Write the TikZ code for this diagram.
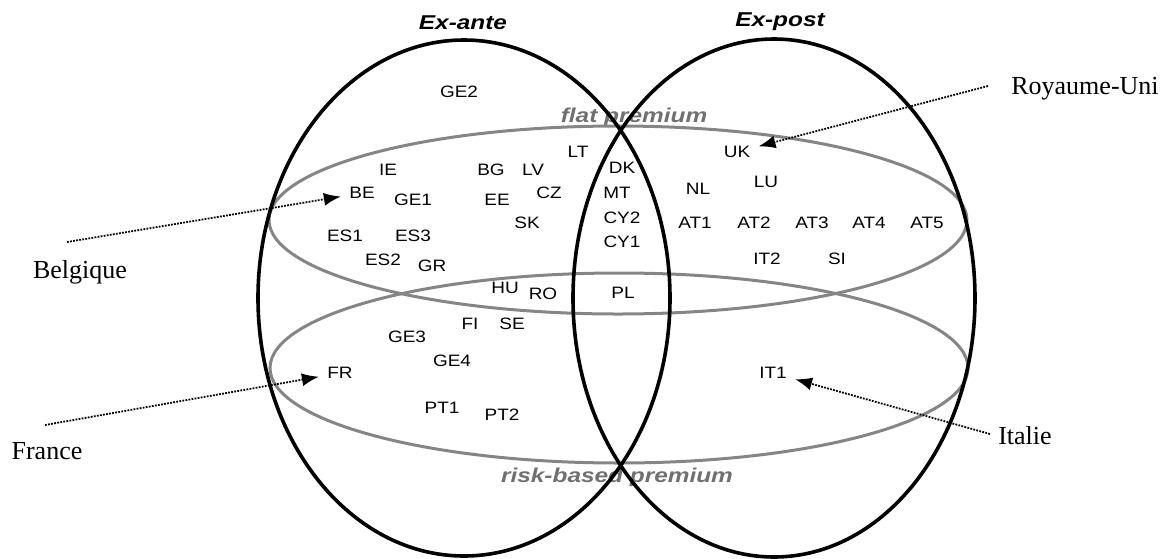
\documentclass[tikz,border=0pt]{standalone}
\usepackage{fontspec}
\setmainfont{Liberation Serif}
\newfontfamily\codefont[FakeStretch=1.15]{Liberation Sans}
\newfontfamily\headfont[FakeStretch=1.22]{Liberation Sans}
\usetikzlibrary{arrows.meta}
\definecolor{ringgray}{HTML}{858585}
\definecolor{premiumgray}{HTML}{707070}

\begin{document}
\begin{tikzpicture}[x=1pt, y=-1pt,
	code/.style={font=\codefont\fontsize{16.5}{16.5}\selectfont},
	heading/.style={font=\headfont\bfseries\itshape\fontsize{20}{20}\selectfont},
	country/.style={font=\fontsize{26}{26}\selectfont},
	pointer/.style={-{Latex[length=17pt,width=13pt]}, line width=1.8pt,
		dash pattern=on 1.8pt off 1.3pt, shorten >=5pt}]
	\useasboundingbox (0,0) rectangle (1163,558);

	% premium rings
	\node[heading, text=premiumgray] (flatlabel) at (634,117) {flat premium};
	\node[heading, text=premiumgray] (risklabel) at (617,477) {risk-based premium};
	\draw[ringgray, line width=3pt] (618,220) ellipse [x radius=349, y radius=94];
	\draw[ringgray, line width=3pt] (619,368) ellipse [x radius=349, y radius=95];

	% ex-ante / ex-post
	\draw[line width=3.6pt] (464,298) ellipse [x radius=206, y radius=258];
	\draw[line width=3.6pt] (774,298) ellipse [x radius=201, y radius=259];
	\node[heading] (exante) at (463,23) {Ex-ante};
	\node[heading] (expost) at (780,22) {Ex-post};

	\node[code] (ge2) at (459,92) {GE2};
	\node[code] (lt) at (578,152) {LT};
	\node[code] (ie) at (388,170) {IE};
	\node[code] (bg) at (491,170) {BG};
	\node[code] (lv) at (533,170) {LV};
	\node[code] (be) at (362,193) {BE};
	\node[code] (ge1) at (413,200) {GE1};
	\node[code] (ee) at (497,200) {EE};
	\node[code] (cz) at (549,193) {CZ};
	\node[code] (sk) at (527,223) {SK};
	\node[code] (es1) at (345,236) {ES1};
	\node[code] (es3) at (413,236) {ES3};
	\node[code] (es2) at (383,260) {ES2};
	\node[code] (gr) at (432,266) {GR};
	\node[code] (hu) at (505,288) {HU};
	\node[code] (ro) at (543,294) {RO};
	\node[code] (fi) at (470,324) {FI};
	\node[code] (se) at (512,324) {SE};
	\node[code] (ge3) at (407,337) {GE3};
	\node[code] (ge4) at (452,361) {GE4};
	\node[code] (fr) at (340,373) {FR};
	\node[code] (pt1) at (442,408) {PT1};
	\node[code] (pt2) at (502,415) {PT2};

	\node[code] (dk) at (622,168) {DK};
	\node[code] (mt) at (617,193) {MT};
	\node[code] (cy2) at (622,218) {CY2};
	\node[code] (cy1) at (622,242) {CY1};
	\node[code] (pl) at (623,293) {PL};

	\node[code] (uk) at (737,152) {UK};
	\node[code] (nl) at (698,189) {NL};
	\node[code] (lu) at (766,182) {LU};
	\node[code] (at1) at (695,223) {AT1};
	\node[code] (at2) at (754,223) {AT2};
	\node[code] (at3) at (812,223) {AT3};
	\node[code] (at4) at (869,223) {AT4};
	\node[code] (at5) at (927,223) {AT5};
	\node[code] (it2) at (767,259) {IT2};
	\node[code] (si) at (837,259) {SI};
	\node[code] (it1) at (773,373) {IT1};

	% countries pointed at
	\node[country] (belgique) at (80,272) {Belgique};
	\node[country] (france) at (47,451) {France};
	\node[country] (royaumeuni) at (1085,89) {Royaume-Uni};
	\node[country] (italie) at (1025,436) {Italie};
	\coordinate (belgiquetail) at (67,242);
	\coordinate (francetail) at (45,425);
	\coordinate (royaumetail) at (988,86);
	\coordinate (italietail) at (990,434);
	\draw[pointer] (belgiquetail) -- (be);
	\draw[pointer] (francetail) -- (fr);
	\draw[pointer] (royaumetail) -- (uk);
	\draw[pointer] (italietail) -- (it1);
\end{tikzpicture}
\end{document}
